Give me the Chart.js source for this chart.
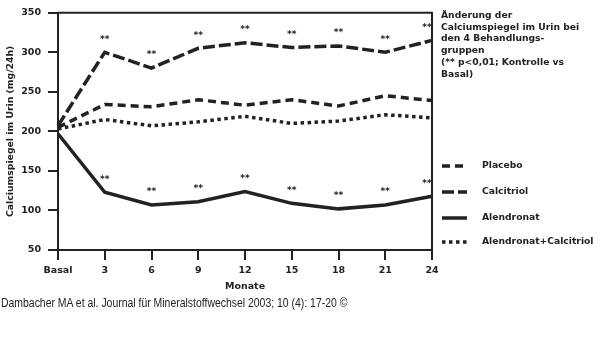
<!DOCTYPE html>
<html><head><meta charset="utf-8">
<script src="https://cdn.jsdelivr.net/npm/chart.js@4"></script>
<style>
html,body{margin:0;padding:0;background:#fff;}
#wrap{position:relative;width:600px;height:353px;overflow:hidden;}
canvas{position:absolute;left:0;top:0;}
#note{position:absolute;left:441px;top:9px;font:bold 9.2px "DejaVu Sans";line-height:11.7px;color:#222;white-space:nowrap;}
#cap{position:absolute;left:1px;top:296px;font:12px "Liberation Sans";color:#222;white-space:nowrap;transform:scaleX(0.87);transform-origin:0 0;}
</style></head>
<body>
<div id="wrap">
<canvas id="c" width="600" height="353"></canvas>
<div id="note">Änderung der<br>Calciumspiegel im Urin bei<br>den 4 Behandlungs-<br>gruppen<br>(** p&lt;0,01; Kontrolle vs<br>Basal)</div>
<div id="cap">Dambacher MA et al. Journal für Mineralstoffwechsel 2003; 10 (4): 17-20 ©</div>
</div>
<script>
const months = ['Basal','3','6','9','12','15','18','21','24'];
const placebo = [205,234,231,240,233,240,232,245,239];
const calcitriol = [207,300,280,305,312,306,308,300,315];
const alendronat = [197,123,107,111,124,109,102,107,118];
const alendronatCalcitriol = [203,215,207,212,219,210,213,221,217];
const seriesNames = ['Placebo','Calcitriol','Alendronat','Alendronat+Calcitriol'];
const yMin = 50, yMax = 350, yStep = 50;
const yTitle = 'Calciumspiegel im Urin (mg/24h)';
const xTitle = 'Monate';
const starMark = '**';

const INK = '#222';
const FONT = '"DejaVu Sans"';

const boxPlugin = {
  id: 'box',
  afterDraw(chart) {
    const {ctx, chartArea: a} = chart;
    ctx.save();
    ctx.strokeStyle = INK; ctx.lineWidth = 2;
    ctx.beginPath();
    ctx.moveTo(a.left, a.top); ctx.lineTo(a.right, a.top); ctx.lineTo(a.right, a.bottom);
    ctx.stroke();
    ctx.restore();
  }
};

const starPlugin = {
  id: 'stars',
  afterDatasetsDraw(chart) {
    const {ctx} = chart;
    ctx.save();
    ctx.fillStyle = INK;
    ctx.font = 'bold 9px ' + FONT;
    ctx.textAlign = 'center'; ctx.textBaseline = 'middle';
    chart.data.datasets.forEach((ds, di) => {
      if (!ds.stars) return;
      chart.getDatasetMeta(di).data.forEach((pt, i) => {
        if (i === 0) return;
        ctx.fillText(starMark, pt.x - (i === months.length - 1 ? 5 : 0), pt.y - 13);
      });
    });
    ctx.restore();
  }
};

const legendPlugin = {
  id: 'customLegend',
  afterDraw(chart) {
    const {ctx} = chart;
    const ys = [166, 192, 218, 242];
    ctx.save();
    ctx.font = 'bold 9.2px ' + FONT;
    ctx.fillStyle = INK; ctx.textBaseline = 'middle'; ctx.textAlign = 'left';
    chart.data.datasets.forEach((ds, i) => {
      const y = ys[i];
      ctx.strokeStyle = INK;
      ctx.lineWidth = ds.borderWidth;
      ctx.setLineDash(ds.borderDash || []);
      ctx.lineCap = 'butt';
      ctx.beginPath(); ctx.moveTo(442, y); ctx.lineTo(467, y); ctx.stroke();
      ctx.setLineDash([]);
      ctx.fillText(ds.label, 482, y);
    });
    ctx.restore();
  }
};

const axisFont = {family: FONT, weight: 'bold', size: 9.5};

new Chart(document.getElementById('c'), {
  type: 'line',
  data: {
    labels: months,
    datasets: [
      {label: seriesNames[0], data: placebo, borderColor: INK, borderWidth: 3.5, borderDash: [8,5], pointRadius: 0, tension: 0, fill: false},
      {label: seriesNames[1], data: calcitriol, borderColor: INK, borderWidth: 3.5, borderDash: [12,4], pointRadius: 0, tension: 0, fill: false, stars: true},
      {label: seriesNames[2], data: alendronat, borderColor: INK, borderWidth: 3.5, pointRadius: 0, tension: 0, fill: false, stars: true},
      {label: seriesNames[3], data: alendronatCalcitriol, borderColor: INK, borderWidth: 3.5, borderDash: [3.5,3.5], pointRadius: 0, tension: 0, fill: false}
    ]
  },
  options: {
    responsive: false,
    devicePixelRatio: 1,
    animation: false,
    layout: {padding: {top: 9, right: 168, bottom: 61, left: 0}},
    plugins: {legend: {display: false}, tooltip: {enabled: false}},
    scales: {
      x: {
        type: 'category', offset: false,
        grid: {drawOnChartArea: false, drawTicks: true, tickLength: 10, color: INK, lineWidth: 2},
        border: {display: true, color: INK, width: 2},
        ticks: {font: axisFont, color: INK, padding: 5, maxRotation: 0, autoSkip: false},
        title: {display: true, text: xTitle, font: axisFont, color: INK, padding: 0},
        afterFit: s => { s.height = 42; }
      },
      y: {
        min: yMin, max: yMax,
        grid: {drawOnChartArea: false, drawTicks: true, tickLength: 10, color: INK, lineWidth: 2},
        border: {display: true, color: INK, width: 2},
        ticks: {stepSize: yStep, font: axisFont, color: INK, padding: 7},
        title: {display: true, text: yTitle, font: {family: FONT, weight: 'bold', size: 9.3}, color: INK, padding: {top: 5, bottom: 0}},
        afterFit: s => { s.width = 58; }
      }
    }
  },
  plugins: [boxPlugin, starPlugin, legendPlugin]
});
</script>
</body></html>
